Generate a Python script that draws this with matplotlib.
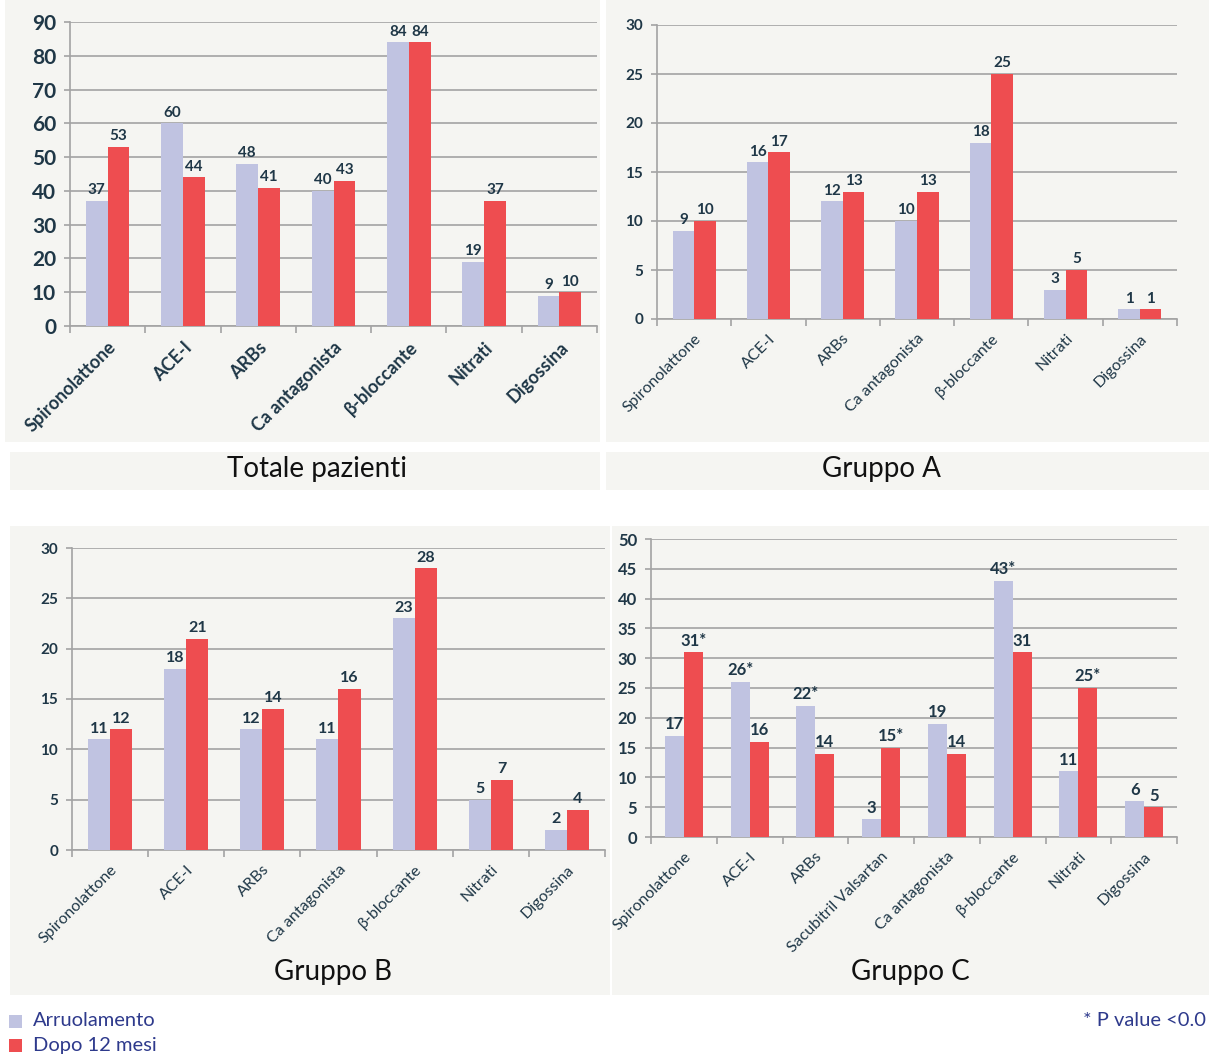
import matplotlib.pyplot as plt
import matplotlib.patches as mpatches
import numpy as np

plt.rcParams['font.family'] = ['Lato', 'DejaVu Sans']

# dati
farmaci = ['Spironolattone', 'ACE-I', 'ARBs', 'Ca antagonista', 'β-bloccante', 'Nitrati', 'Digossina']
farmaci_c = ['Spironolattone', 'ACE-I', 'ARBs', 'Sacubitril Valsartan', 'Ca antagonista',
             'β-bloccante', 'Nitrati', 'Digossina']

tot_arr = [37, 60, 48, 40, 84, 19, 9]
tot_dopo = [53, 44, 41, 43, 84, 37, 10]

a_arr = [9, 16, 12, 10, 18, 3, 1]
a_dopo = [10, 17, 13, 13, 25, 5, 1]

b_arr = [11, 18, 12, 11, 23, 5, 2]
b_dopo = [12, 21, 14, 16, 28, 7, 4]

c_arr = [17, 26, 22, 3, 19, 43, 11, 6]
c_dopo = [31, 16, 14, 15, 14, 31, 25, 5]
c_arr_lab = ['17', '26*', '22*', '3', '19', '43*', '11', '6']
c_dopo_lab = ['31*', '16', '14', '15*', '14', '31', '25*', '5']

BLU = '#c0c3e1'
ROSSO = '#ee4d50'
TESTO = '#1f3747'
GRIGLIA = '#a3a3a3'
SFONDO = '#f5f5f2'

W, H = 1209, 1058
fig = plt.figure(figsize=(W / 100, H / 100), dpi=100)
fig.patch.set_facecolor('white')


def px_rect(x0, y0, x1, y1):
    # rettangolo di sfondo in pixel (origine in alto a sinistra)
    fig.patches.append(mpatches.Rectangle((x0 / W, 1 - y1 / H), (x1 - x0) / W, (y1 - y0) / H,
                                          transform=fig.transFigure, facecolor=SFONDO,
                                          edgecolor='none', zorder=-10))


px_rect(5, 0, 600, 442)
px_rect(10, 452, 600, 490)
px_rect(606, 0, 1209, 442)
px_rect(606, 452, 1209, 490)
px_rect(10, 526, 610, 995)
px_rect(612, 526, 1209, 995)


def pannello(rect, cats, arr, dopo, ymax, step, fs_y, fs_x, fs_val, peso_x='normal',
             lab_arr=None, lab_dopo=None):
    l, t, r, b = rect
    ax = fig.add_axes([l / W, 1 - b / H, (r - l) / W, (b - t) / H])
    ax.set_facecolor('none')
    n = len(cats)
    x = np.arange(n)
    w = 0.29
    b1 = ax.bar(x - w / 2, arr, w, color=BLU, zorder=3)
    b2 = ax.bar(x + w / 2, dopo, w, color=ROSSO, zorder=3)
    if lab_arr is None:
        lab_arr = [str(v) for v in arr]
    if lab_dopo is None:
        lab_dopo = [str(v) for v in dopo]
    for bars, labs in ((b1, lab_arr), (b2, lab_dopo)):
        for bar, lab in zip(bars, labs):
            ax.text(bar.get_x() + bar.get_width() / 2, bar.get_height() + ymax * 0.012, lab,
                    ha='center', va='bottom', fontsize=fs_val, color=TESTO, fontweight='bold', zorder=4)
    ax.set_xlim(-0.5, n - 0.5)
    ax.set_ylim(0, ymax)
    ax.set_yticks(np.arange(0, ymax + 1, step))
    ax.yaxis.grid(True, color=GRIGLIA, linewidth=1.2, zorder=0)
    ax.set_xticks(x)
    ax.set_xticklabels(cats, rotation=45, ha='right', rotation_mode='anchor',
                       fontsize=fs_x, color=TESTO, fontweight=peso_x)
    ax.set_xticks(np.arange(-0.5, n, 1), minor=True)
    ax.tick_params(axis='x', which='major', length=0, pad=9)
    ax.tick_params(axis='x', which='minor', length=5, color=GRIGLIA, width=1.2)
    ax.tick_params(axis='y', length=4, color=GRIGLIA, width=1.2, labelsize=fs_y,
                   labelcolor=TESTO, pad=6)
    for lab in ax.get_yticklabels():
        lab.set_fontweight('bold')
    ax.spines['top'].set_visible(False)
    ax.spines['right'].set_visible(False)
    ax.spines['left'].set_color(GRIGLIA)
    ax.spines['bottom'].set_color(GRIGLIA)
    ax.spines['left'].set_linewidth(1.2)
    ax.spines['bottom'].set_linewidth(1.2)
    return ax


pannello((70, 22, 597, 326), farmaci, tot_arr, tot_dopo, 90, 10, 15, 13, 11, 'bold')
pannello((657, 25, 1177, 319), farmaci, a_arr, a_dopo, 30, 5, 11, 11.5, 11)
pannello((72, 548, 605, 850), farmaci, b_arr, b_dopo, 30, 5, 11, 11.5, 11.5)
pannello((651, 539, 1177, 837), farmaci_c, c_arr, c_dopo, 50, 5, 12, 11.5, 12,
         lab_arr=c_arr_lab, lab_dopo=c_dopo_lab)

# titoli
fig.text(317 / W, 1 - 469 / H, 'Totale pazienti', ha='center', va='center', fontsize=20, color='#111111')
fig.text(881 / W, 1 - 469 / H, 'Gruppo A', ha='center', va='center', fontsize=20, color='#111111')
fig.text(333 / W, 1 - 972 / H, 'Gruppo B', ha='center', va='center', fontsize=20, color='#111111')
fig.text(910 / W, 1 - 972 / H, 'Gruppo C', ha='center', va='center', fontsize=20, color='#111111')

# legenda
NAVY = '#2e3a8c'
for yy, col, lab in ((1021, BLU, 'Arruolamento'), (1045, ROSSO, 'Dopo 12 mesi')):
    fig.patches.append(mpatches.Rectangle((9 / W, 1 - (yy + 7) / H), 13 / W, 13 / H,
                                          transform=fig.transFigure, facecolor=col, edgecolor='none'))
    fig.text(33 / W, 1 - yy / H, lab, ha='left', va='center', fontsize=14.5, color=NAVY)

# nota (nel riferimento il testo è troncato al bordo)
fig.text(1206 / W, 1 - 1021 / H, '* P value <0.0', ha='right', va='center', fontsize=14.5, color=NAVY)

plt.savefig('out.png', dpi=100)
plt.close()
